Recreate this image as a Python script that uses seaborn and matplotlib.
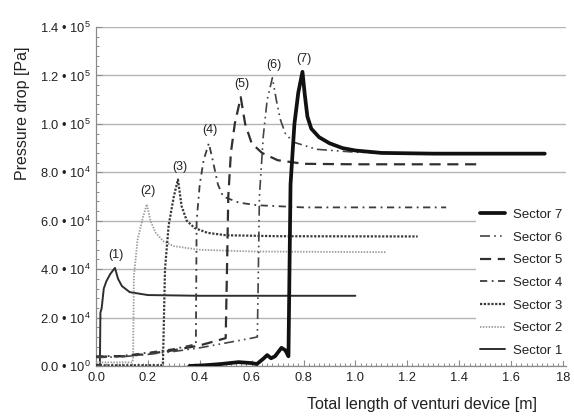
import numpy as np
import pandas as pd
import matplotlib
matplotlib.use("Agg")
import matplotlib.pyplot as plt
import seaborn as sns
from matplotlib.ticker import MultipleLocator, FixedLocator

# ---------------- data ----------------
s1_x = [0.0, 0.015, 0.017, 0.022, 0.03, 0.04, 0.055, 0.073, 0.085, 0.10, 0.13, 0.20, 0.40, 1.00]
s1_y = [500, 500, 22000, 24000, 32000, 35000, 38000, 40500, 36000, 33000, 30500, 29300, 29000, 29000]

s2_x = [0.0, 0.140, 0.143, 0.146, 0.16, 0.18, 0.196, 0.21, 0.23, 0.26, 0.30, 0.40, 0.60, 1.12]
s2_y = [1500, 1500, 3000, 37000, 52000, 61000, 66800, 60000, 55000, 51500, 49500, 48000, 47300, 47000]

s3_x = [0.0, 0.25, 0.258, 0.262, 0.266, 0.28, 0.30, 0.316, 0.33, 0.35, 0.38, 0.43, 0.50, 0.70, 1.24]
s3_y = [300, 300, 500, 20000, 40000, 58000, 70000, 77000, 66000, 60000, 57000, 55000, 54000, 53600, 53500]

s4_x = [0.0, 0.10, 0.20, 0.30, 0.385, 0.388, 0.40, 0.415, 0.435, 0.45, 0.47, 0.49, 0.55, 0.62, 0.80, 1.35]
s4_y = [4000, 4200, 5500, 7000, 9000, 60000, 75000, 85000, 92000, 85000, 75000, 70000, 67500, 66400, 65500, 65500]

s5_x = [0.0, 0.10, 0.20, 0.30, 0.40, 0.50, 0.505, 0.51, 0.52, 0.535, 0.558, 0.575, 0.60, 0.64, 0.70, 0.80, 1.00, 1.47]
s5_y = [3800, 4000, 5000, 6500, 8500, 11500, 40000, 70000, 88000, 100000, 111000, 100000, 92000, 88000, 85000, 83500, 83300, 83300]

s6_x = [0.0, 0.10, 0.20, 0.30, 0.40, 0.50, 0.60, 0.622, 0.626, 0.63, 0.645, 0.66, 0.68, 0.695, 0.71, 0.73, 0.76, 0.85, 1.00, 1.20, 1.72]
s6_y = [3500, 3800, 4800, 6000, 7500, 9500, 11500, 12000, 40000, 70000, 95000, 110000, 119000, 110000, 102000, 96000, 92500, 89500, 88300, 87800, 87800]

s7_x = [0.36, 0.42, 0.48, 0.55, 0.60, 0.62, 0.645, 0.66, 0.675, 0.69, 0.715, 0.73, 0.742, 0.746, 0.750, 0.765, 0.78, 0.796,
        0.805, 0.815, 0.83, 0.86, 0.90, 0.95, 1.00, 1.10, 1.30, 1.73]
s7_y = [0, 300, 800, 1600, 1200, 800, 3000, 4500, 3200, 4000, 7500, 6500, 4000, 40000, 75000, 100000, 113000, 121500,
        112000, 103000, 98000, 94500, 92000, 90000, 89000, 88000, 87700, 87700]

sectors = ["Sector 1", "Sector 2", "Sector 3", "Sector 4", "Sector 5", "Sector 6", "Sector 7"]
peak_labels = ["(1)", "(2)", "(3)", "(4)", "(5)", "(6)", "(7)"]
xs = [s1_x, s2_x, s3_x, s4_x, s5_x, s6_x, s7_x]
ys = [s1_y, s2_y, s3_y, s4_y, s5_y, s6_y, s7_y]

y_ticks = [0, 20000, 40000, 60000, 80000, 100000, 120000, 140000]
y_ticklabels = ["0.0 • 10$^{0}$", "2.0 • 10$^{4}$", "4.0 • 10$^{4}$", "6.0 • 10$^{4}$",
                "8.0 • 10$^{4}$", "1.0 • 10$^{5}$", "1.2 • 10$^{5}$", "1.4 • 10$^{5}$"]
x_ticks = [0.0, 0.2, 0.4, 0.6, 0.8, 1.0, 1.2, 1.4, 1.6, 1.8]
x_ticklabels = ["0.0", "0.2", "0.4", "0.6", "0.8", "1.0", "1.2", "1.4", "1.6", "18"]

# ---------------- styles ----------------
colors = {"Sector 1": "#2e2e2e", "Sector 2": "#9a9a9a", "Sector 3": "#3a3a3a", "Sector 4": "#3c3c3c",
          "Sector 5": "#303030", "Sector 6": "#444444", "Sector 7": "#111111"}
widths = {"Sector 1": 1.4, "Sector 2": 1.3, "Sector 3": 1.6, "Sector 4": 1.3,
          "Sector 5": 1.6, "Sector 6": 1.2, "Sector 7": 2.7}
dashes = {"Sector 1": None, "Sector 2": (0.8, 0.8), "Sector 3": (1.0, 0.7), "Sector 4": (4, 2.5, 1, 2.5),
          "Sector 5": (5, 3), "Sector 6": (6, 2.5, 1, 2.5, 1, 2.5), "Sector 7": None}

sns.set_theme(style="white")
plt.rcParams["font.family"] = ["Liberation Sans", "DejaVu Sans"]
plt.rcParams["mathtext.fontset"] = "custom"
plt.rcParams["mathtext.rm"] = "Liberation Sans"
plt.rcParams["mathtext.it"] = "Liberation Sans"

fig = plt.figure(figsize=(5.74, 4.17), dpi=100)
ax = fig.add_axes([96 / 574, 1 - 366 / 417, 470 / 574, 339 / 417])

handles = {}
for name, x, y, lab in zip(sectors, xs, ys, peak_labels):
    df = pd.DataFrame({"x": x, "y": y})
    sns.lineplot(data=df, x="x", y="y", ax=ax, sort=False, estimator=None,
                 color=colors[name], linewidth=widths[name], label=name,
                 zorder=5 if name == "Sector 7" else 3)
    line = ax.get_lines()[-1]
    if dashes[name] is not None:
        line.set_dashes(dashes[name])
    handles[name] = line
    i = int(np.argmax(y))
    ax.annotate(lab, (x[i], y[i]), xytext=(1, 5), textcoords="offset points",
                ha="center", va="bottom", fontsize=9, color="#222222")

ax.set_xlim(0, 1.812)
ax.set_ylim(0, 140000)
ax.yaxis.set_major_locator(FixedLocator(y_ticks))
ax.set_yticklabels(y_ticklabels)
ax.xaxis.set_major_locator(FixedLocator(x_ticks))
ax.set_xticklabels(x_ticklabels)
ax.xaxis.set_minor_locator(MultipleLocator(0.02))
ax.yaxis.set_minor_locator(MultipleLocator(4000))
ax.tick_params(axis="both", which="major", direction="in", length=4, width=0.8, color="#8a8a8a",
               labelsize=9.3, labelcolor="#222222", pad=4)
ax.tick_params(axis="both", which="minor", direction="in", length=2.5, width=0.7, color="#8a8a8a")
ax.tick_params(axis="x", which="both", bottom=True)
ax.tick_params(axis="y", which="both", left=True)

ax.grid(True, axis="y", color="#b4b4b4", linewidth=1.0)
ax.set_axisbelow(True)
for s in ["top", "right"]:
    ax.spines[s].set_visible(False)
for s in ["left", "bottom"]:
    ax.spines[s].set_color("#8a8a8a")
    ax.spines[s].set_linewidth(0.9)

ax.set_xlabel("Total length of venturi device [m]", fontsize=11.5, color="#222222")
ax.xaxis.set_label_coords(0.694, -0.092)
ax.set_ylabel("Pressure drop [Pa]", fontsize=11.5, color="#222222")
ax.yaxis.set_label_coords(-0.14, 0.745)

order = ["Sector 7", "Sector 6", "Sector 5", "Sector 4", "Sector 3", "Sector 2", "Sector 1"]
leg = ax.legend([handles[n] for n in order], order, loc="lower right", bbox_to_anchor=(1.0, 0.015),
                fontsize=9.5, frameon=True, facecolor="white", edgecolor="none", framealpha=1,
                handlelength=1.9, handletextpad=0.6, labelspacing=0.79, borderpad=0.3,
                borderaxespad=0.0)
for t in leg.get_texts():
    t.set_color("#222222")

fig.savefig("out.png", dpi=100)
